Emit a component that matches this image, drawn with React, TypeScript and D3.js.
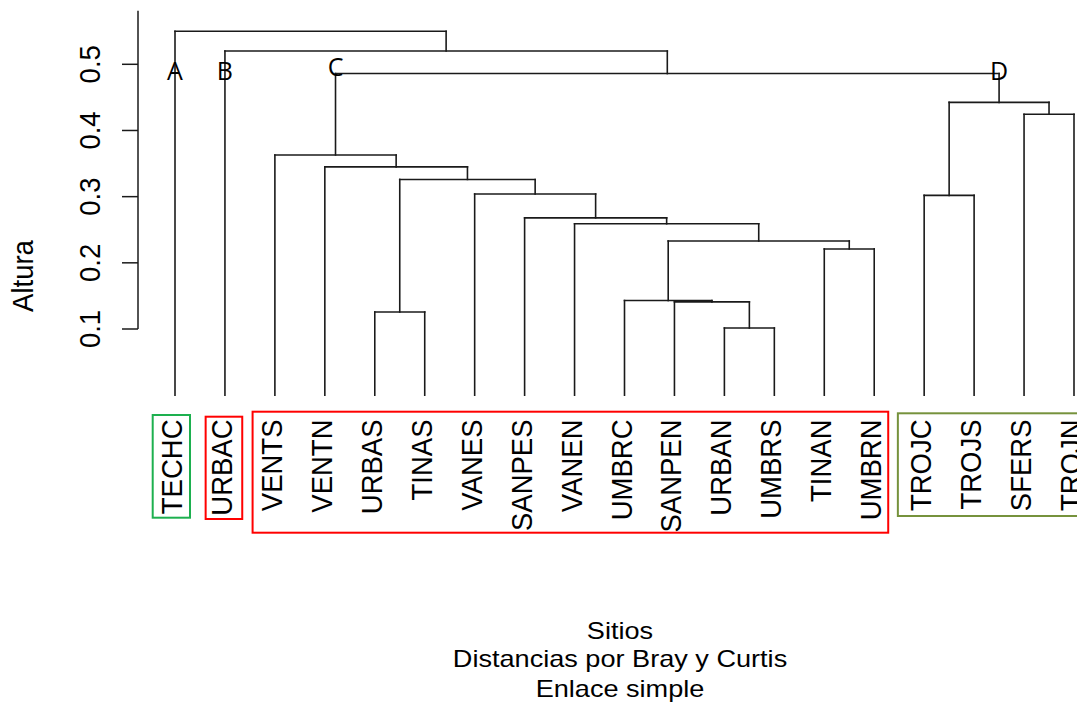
import React from "react";
import * as d3 from "d3";

// Leaves in dendrogram order
const leafLabels = [
  "TECHC", "URBAC", "VENTS", "VENTN", "URBAS", "TINAS", "VANES", "SANPES", "VANEN",
  "UMBRC", "SANPEN", "URBAN", "UMBRS", "TINAN", "UMBRN", "TROJC", "TROJS", "SFERS", "TROJN",
];

// hclust-style merges: negative = leaf (1-based), positive = earlier merge (1-based)
const mergeLeft = [-12, -5, -11, -10, -14, 4, -9, -8, -16, -7, 2, -4, -3, -18, 9, 13, -2, -1];
const mergeRight = [-13, -6, 1, 3, -15, 5, 6, 7, -17, 8, 10, 11, 12, -19, 14, 15, 16, 17];
const mergeHeight = [
  0.1015, 0.1257, 0.141, 0.143, 0.221, 0.233, 0.259, 0.268, 0.302,
  0.304, 0.326, 0.345, 0.363, 0.4245, 0.4425, 0.486, 0.52, 0.55,
];

const yTicks = [0.1, 0.2, 0.3, 0.4, 0.5];
const yTickLabels = ["0.1", "0.2", "0.3", "0.4", "0.5"];

const titleLines = ["Sitios", "Distancias por Bray y Curtis", "Enlace simple"];
const yTitle = "Altura";

// Group letters: attached to a leaf (negative) or merge (positive)
const groupLetters = ["A", "B", "C", "D"];
const groupNodes = [-1, -2, 13, 15];
const groupLetterDy = [0, 0, -4, 0];

// Boxes around label groups (leaf index range, colour)
const boxFrom = [0, 1, 2, 15];
const boxTo = [0, 1, 14, 18];
const boxColor = ["#1db04f", "#ff0000", "#ff0000", "#76923c"];

export default function App() {
  const W = 1077;
  const H = 710;
  const x = d3.scaleLinear().domain([0, leafLabels.length - 1]).range([175, 1074]);
  const y = d3.scaleLinear().domain([0.1, 0.5]).range([329, 64.3]);

  const nodeX: number[] = [];
  const nodeH: number[] = [];
  const childPos = (c: number) =>
    c < 0 ? { cx: x(-c - 1), ch: 0 } : { cx: nodeX[c - 1], ch: nodeH[c - 1] };

  const segs: { x1: number; y1: number; x2: number; y2: number }[] = [];
  mergeHeight.forEach((h, i) => {
    const a = childPos(mergeLeft[i]);
    const b = childPos(mergeRight[i]);
    const yh = y(h);
    segs.push({ x1: a.cx, y1: y(a.ch), x2: a.cx, y2: yh });
    segs.push({ x1: b.cx, y1: y(b.ch), x2: b.cx, y2: yh });
    segs.push({ x1: a.cx, y1: yh, x2: b.cx, y2: yh });
    nodeX.push((a.cx + b.cx) / 2);
    nodeH.push(h);
  });

  const font = "'Liberation Sans', Arial, Helvetica, sans-serif";
  const stroke = "#1a1a1a";
  const rs = 27.5;
  const rsx = 1.1;
  const hs = 24;
  const hsx = 1.13;

  return (
    <svg
      width={W}
      height={H}
      style={{ position: "absolute", left: 0, top: 0, background: "#fff" }}
    >
      <rect x={0} y={0} width={W} height={H} fill="#fff" />
      <line x1={138} x2={138} y1={10.7} y2={y(0.1)} stroke={stroke} strokeWidth={1.5} />
      {yTicks.map((t, i) => (
        <g key={t}>
          <line x1={122} x2={138} y1={y(t)} y2={y(t)} stroke={stroke} strokeWidth={1.5} />
          <text
            transform={`translate(100,${y(t)}) scale(${rsx},1) rotate(-90)`}
            textAnchor="middle"
            fontFamily={font}
            fontSize={rs}
            fill="#000"
          >
            {yTickLabels[i]}
          </text>
        </g>
      ))}
      <text
        transform={`translate(33,276) scale(${rsx},1) rotate(-90)`}
        textAnchor="middle"
        fontFamily={font}
        fontSize={rs}
        fill="#000"
      >
        {yTitle}
      </text>

      {segs.map((s, i) => (
        <line
          key={i}
          x1={s.x1}
          y1={s.y1}
          x2={s.x2}
          y2={s.y2}
          stroke={stroke}
          strokeWidth={1.6}
          strokeLinecap="square"
        />
      ))}

      {leafLabels.map((l, i) => (
        <text
          key={l}
          transform={`translate(${x(i) + 7},419.5) scale(${rsx},1) rotate(-90)`}
          textAnchor="end"
          fontFamily={font}
          fontSize={rs}
          fill="#000"
        >
          {l}
        </text>
      ))}

      {boxFrom.map((f, i) => {
        const x0 = x(f) - (i === 3 ? 26.3 : i === 1 ? 19.3 : 22.3);
        const x1 = x(boxTo[i]) + (i === 1 ? 17.3 : i === 0 ? 15 : 14);
        const ys = [[415, 517.7], [416.7, 519], [411.7, 532.7], [413.3, 516]][i];
        return (
          <rect
            key={i}
            x={x0}
            y={ys[0]}
            width={x1 - x0}
            height={ys[1] - ys[0]}
            fill="none"
            stroke={boxColor[i]}
            strokeWidth={2}
          />
        );
      })}

      {groupLetters.map((g, i) => {
        const n = groupNodes[i];
        const gx = n < 0 ? x(-n - 1) : nodeX[n - 1];
        return (
          <text
            key={g}
            x={gx}
            y={80 + groupLetterDy[i]}
            textAnchor="middle"
            fontFamily="'Open Sans', 'Noto Sans', sans-serif"
            fontSize={25}
            fill="#000"
          >
            {g}
          </text>
        );
      })}

      {titleLines.map((t, i) => (
        <text
          key={t}
          transform={`translate(620,${[639, 667, 697][i]}) scale(${hsx},1)`}
          textAnchor="middle"
          fontFamily={font}
          fontSize={hs}
          fill="#000"
        >
          {t}
        </text>
      ))}
    </svg>
  );
}
